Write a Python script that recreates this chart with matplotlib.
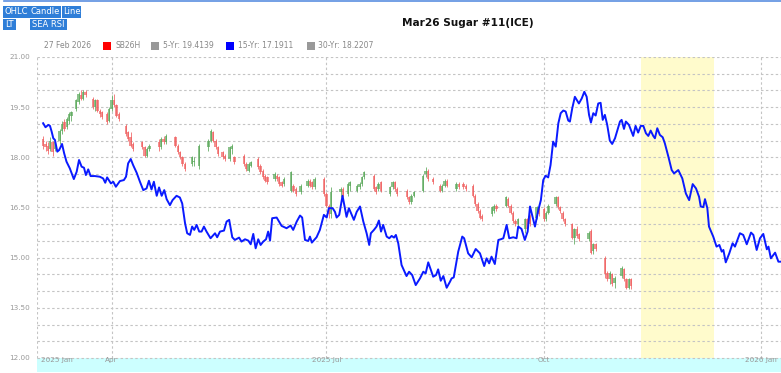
import numpy as np
import matplotlib
matplotlib.use("Agg")
from matplotlib import pyplot as plt
from matplotlib.patches import Rectangle
from matplotlib.lines import Line2D

W, H = 781, 373

# --- data (x = days since 2025-01-01) ---
# SB26H daily candles: day, open, high, low, close
candle_day = [61, 62, 63, 64, 65, 66, 68, 69, 70, 71, 72, 73, 75, 76, 77, 78, 79,
              82, 83, 84, 85, 86, 88, 89, 90, 91, 92, 93, 96, 97, 98, 99,
              103, 104, 105, 106, 110, 111, 112, 113, 117, 118, 119, 120, 121,
              124, 125, 127, 131, 132, 133, 134, 135, 137, 138, 140, 141, 142,
              146, 147, 148, 149, 152, 153, 154, 155, 156, 159, 160, 161, 162, 163,
              166, 167, 168, 170, 173, 174, 175, 176, 180, 181, 182, 183,
              187, 188, 190, 191, 194, 195, 196, 197, 201, 202, 203, 204,
              208, 209, 210, 211, 215, 216, 217, 218, 222, 223, 224, 226,
              229, 230, 231, 232, 236, 237, 239, 240, 243, 244, 245, 246, 247,
              251, 252, 253, 257, 258, 259, 260, 261, 262, 265, 266, 267,
              270, 271, 273, 274, 275, 278, 279, 280, 281, 282,
              285, 286, 287, 288, 292, 293, 294, 295,
              299, 300, 301, 302, 303, 306, 307, 308, 309, 310]
candle_open = [18.55, 18.40, 18.35, 18.25, 18.45, 18.25, 18.50, 18.80, 19.05, 18.90, 19.10, 19.25, 19.45, 19.65, 19.85, 19.75, 19.95,
               19.75, 19.50, 19.70, 19.40, 19.35, 19.30, 19.10, 19.45, 19.70, 19.55, 19.30, 18.95, 18.75, 18.60, 18.40,
               18.45, 18.30, 18.05, 18.25, 18.45, 18.30, 18.55, 18.45, 18.60, 18.35, 18.15, 18.00, 17.80,
               17.80, 17.85, 17.75, 18.30, 18.50, 18.75, 18.50, 18.30, 18.15, 18.05, 17.95, 18.25, 18.00,
               18.05, 17.80, 17.60, 17.75, 17.95, 17.75, 17.60, 17.45, 17.40, 17.35, 17.45, 17.40, 17.25, 17.20,
               17.00, 17.15, 17.05, 16.95, 17.15, 17.30, 17.25, 17.10, 17.35, 16.90, 16.55, 16.30,
               16.95, 17.05, 16.90, 17.15, 17.00, 17.10, 17.20, 17.40, 17.45, 17.10, 17.05, 17.25,
               16.90, 17.10, 17.25, 17.05, 17.00, 16.80, 16.65, 16.85, 17.00, 17.50, 17.60, 17.35,
               17.15, 17.00, 17.15, 17.30, 17.05, 17.20, 17.20, 17.15, 17.15, 16.85, 16.60, 16.40, 16.25,
               16.30, 16.40, 16.55, 16.55, 16.75, 16.55, 16.35, 16.10, 16.00, 15.85, 16.15, 16.25,
               16.20, 16.45, 16.45, 16.15, 16.35, 16.60, 16.80, 16.50, 16.35, 16.15,
               16.00, 15.60, 15.85, 15.70, 15.55, 15.80, 15.20, 15.40,
               15.00, 14.55, 14.35, 14.50, 14.25, 14.45, 14.65, 14.35, 14.10, 14.35]
candle_high = [18.65, 18.50, 18.45, 18.60, 18.50, 18.50, 18.85, 19.10, 19.15, 19.20, 19.35, 19.40, 19.75, 19.95, 20.00, 20.00, 20.00,
               19.80, 19.75, 19.75, 19.45, 19.40, 19.35, 19.50, 19.85, 19.90, 19.60, 19.35, 19.00, 18.80, 18.75, 18.45,
               18.50, 18.35, 18.30, 18.40, 18.55, 18.60, 18.65, 18.70, 18.65, 18.40, 18.20, 18.05, 17.85,
               18.05, 18.00, 18.40, 18.55, 18.85, 18.80, 18.55, 18.35, 18.20, 18.10, 18.35, 18.40, 18.05,
               18.10, 17.85, 17.85, 17.90, 18.00, 17.80, 17.65, 17.50, 17.45, 17.55, 17.50, 17.45, 17.30, 17.40,
               17.60, 17.20, 17.10, 17.20, 17.35, 17.35, 17.30, 17.40, 17.40, 16.95, 16.60, 17.10,
               17.10, 17.10, 17.25, 17.30, 17.20, 17.25, 17.45, 17.60, 17.50, 17.15, 17.25, 17.30,
               17.15, 17.30, 17.30, 17.10, 17.05, 16.85, 16.90, 17.00, 17.50, 17.70, 17.65, 17.40,
               17.20, 17.20, 17.35, 17.35, 17.25, 17.25, 17.25, 17.20, 17.20, 16.90, 16.65, 16.45, 16.30,
               16.55, 16.60, 16.60, 16.85, 16.80, 16.60, 16.40, 16.15, 16.20, 16.20, 16.20, 16.30,
               16.55, 16.55, 16.50, 16.40, 16.60, 16.85, 16.85, 16.55, 16.40, 16.20,
               16.05, 15.90, 15.95, 15.75, 15.80, 15.85, 15.45, 15.45,
               15.05, 14.60, 14.60, 14.55, 14.45, 14.75, 14.70, 14.40, 14.40, 14.40]
candle_low = [18.25, 18.20, 18.10, 18.20, 18.05, 18.20, 18.40, 18.70, 18.80, 18.85, 19.00, 19.10, 19.40, 19.60, 19.70, 19.70, 19.80,
              19.45, 19.40, 19.35, 19.20, 19.15, 19.00, 19.05, 19.40, 19.50, 19.20, 19.10, 18.65, 18.50, 18.30, 18.20,
              18.25, 18.00, 18.00, 18.20, 18.20, 18.25, 18.40, 18.40, 18.30, 18.10, 17.95, 17.75, 17.60,
              17.75, 17.75, 17.65, 18.20, 18.45, 18.45, 18.25, 18.05, 17.95, 17.90, 17.90, 18.10, 17.80,
              17.75, 17.60, 17.55, 17.70, 17.65, 17.50, 17.35, 17.25, 17.20, 17.30, 17.30, 17.15, 17.10, 17.15,
              16.95, 16.95, 16.85, 16.90, 17.10, 17.10, 17.05, 17.05, 16.85, 16.50, 16.20, 16.20,
              16.80, 16.80, 16.85, 17.00, 16.95, 17.05, 17.15, 17.35, 17.00, 16.90, 17.00, 16.95,
              16.85, 17.05, 17.00, 16.85, 16.75, 16.60, 16.60, 16.80, 16.95, 17.40, 17.30, 17.20,
              16.95, 16.95, 17.10, 17.10, 17.00, 17.05, 17.05, 17.00, 16.80, 16.55, 16.35, 16.15, 16.10,
              16.25, 16.35, 16.40, 16.50, 16.50, 16.30, 16.05, 15.95, 15.95, 15.75, 15.80, 15.95,
              16.15, 16.25, 16.10, 16.10, 16.30, 16.55, 16.45, 16.35, 16.10, 15.95,
              15.55, 15.40, 15.60, 15.50, 15.50, 15.10, 15.10, 15.20,
              14.40, 14.30, 14.20, 14.15, 14.10, 14.40, 14.30, 14.05, 14.05, 14.05]
candle_close = [18.35, 18.30, 18.20, 18.50, 18.15, 18.45, 18.80, 19.00, 18.85, 19.15, 19.30, 19.35, 19.70, 19.90, 19.75, 19.95, 19.85,
                19.50, 19.70, 19.40, 19.30, 19.20, 19.05, 19.45, 19.70, 19.55, 19.25, 19.15, 18.70, 18.55, 18.35, 18.25,
                18.30, 18.05, 18.25, 18.35, 18.30, 18.55, 18.45, 18.65, 18.35, 18.15, 18.00, 17.80, 17.65,
                18.00, 17.90, 18.35, 18.50, 18.80, 18.50, 18.30, 18.10, 18.00, 17.95, 18.30, 18.35, 17.85,
                17.80, 17.65, 17.80, 17.85, 17.70, 17.55, 17.40, 17.30, 17.25, 17.50, 17.35, 17.20, 17.15, 17.35,
                17.55, 17.00, 16.90, 17.15, 17.30, 17.15, 17.10, 17.35, 16.90, 16.55, 16.30, 16.95,
                17.05, 16.85, 17.20, 17.25, 17.15, 17.20, 17.40, 17.55, 17.05, 16.95, 17.20, 17.00,
                17.10, 17.25, 17.05, 16.90, 16.80, 16.65, 16.85, 16.95, 17.45, 17.60, 17.35, 17.25,
                17.00, 17.15, 17.30, 17.15, 17.20, 17.10, 17.10, 17.05, 16.85, 16.60, 16.40, 16.20, 16.15,
                16.50, 16.55, 16.45, 16.80, 16.55, 16.35, 16.10, 16.00, 16.15, 16.15, 15.85, 16.00,
                16.50, 16.30, 16.15, 16.35, 16.55, 16.80, 16.50, 16.40, 16.15, 16.00,
                15.60, 15.85, 15.65, 15.55, 15.75, 15.15, 15.40, 15.25,
                14.50, 14.35, 14.55, 14.20, 14.40, 14.70, 14.35, 14.10, 14.35, 14.15]

# 15-year seasonal line
sea_day = [61.0, 62.0, 63.2, 63.9, 64.6, 65.3, 66.0, 67.0, 67.8, 69.0, 69.9, 70.9, 72.3, 74.0, 75.2, 76.2,
           77.3, 78.3, 79.1, 80.1, 81.1, 82.9, 85.0, 86.4, 87.3, 88.1, 89.7, 90.7, 91.8, 93.5, 95.2, 96.1,
           97.0, 98.1, 99.1, 100.6, 102.0, 103.4, 104.8, 105.8, 106.9, 107.9, 109.1, 110.1, 111.2, 112.3,
           113.3, 114.7, 115.8, 117.5, 118.9, 119.9, 121.1, 122.0, 123.2, 124.1, 125.0, 126.0, 127.1, 128.1,
           129.1, 130.2, 131.9, 133.8, 134.7, 135.9, 137.6, 138.7, 139.8, 141.1, 142.2, 144.0, 145.0, 146.5,
           147.9, 148.9, 150.0, 151.0, 152.1, 153.1, 154.2, 155.4, 156.3, 157.1, 158.0, 159.9, 162.0, 164.1,
           165.8, 166.9, 168.4, 169.8, 170.7, 171.9, 173.3, 174.0, 174.8, 176.8, 178.2, 179.9, 181.1, 182.0,
           183.6, 184.6, 185.3, 186.4, 187.8, 188.8, 189.5, 190.5, 191.7, 192.6, 193.8, 195.2, 196.6, 198.0,
           199.1, 199.8, 201.1, 202.2, 203.2, 204.1, 205.0, 206.5, 207.6, 208.6, 209.6, 210.4, 211.4, 212.8,
           214.9, 216.0, 217.3, 218.8, 220.6, 222.0, 223.0, 224.1, 226.2, 227.4, 228.3, 229.4, 230.5, 231.9,
           233.3, 234.0, 234.9, 236.8, 238.5, 239.3, 241.0, 242.5, 244.2, 246.0, 247.8, 248.8, 249.9, 250.9,
           252.3, 253.8, 254.8, 255.9, 257.3, 258.4, 260.1, 261.5, 262.2, 263.6, 265.0, 266.2, 267.2, 267.9,
           269.3, 270.7, 271.8, 272.8, 273.8, 274.9, 275.9, 277.0, 278.1, 279.2, 280.2, 281.3, 282.3, 283.4,
           284.1, 285.1, 286.2, 287.9, 289.1, 290.2, 291.2, 292.2, 293.0, 294.0, 295.0, 296.1, 297.1, 298.0,
           298.9, 299.9, 301.0, 302.0, 303.2, 305.3, 306.0, 307.0, 307.8, 309.1, 310.9, 311.9, 313.0, 314.1,
           315.2, 316.3, 317.3, 318.3, 319.4, 320.1, 321.1, 322.2, 323.4, 324.3, 325.8, 327.2, 328.2, 330.0,
           331.7, 333.2, 334.6, 336.1, 337.5, 338.8, 339.5, 340.6, 341.3, 342.3, 343.0, 344.8, 346.2, 347.4,
           348.4, 349.1, 350.1, 351.6, 353.0, 354.0, 356.1, 357.5, 359.0, 360.8, 361.8, 363.2, 364.6, 366.0,
           367.5, 368.2, 369.2, 371.0, 372.4, 373.5]
sea_val = [19.02, 18.90, 18.97, 18.94, 18.77, 18.57, 18.52, 18.17, 18.22, 18.40, 18.12, 17.87, 17.67, 17.35, 17.57, 17.92,
           17.72, 17.69, 17.47, 17.64, 17.44, 17.44, 17.42, 17.37, 17.24, 17.40, 17.22, 17.27, 17.12, 17.29, 17.32, 17.42,
           17.82, 17.95, 17.77, 17.54, 17.27, 17.02, 17.07, 17.30, 17.04, 17.27, 16.85, 17.10, 16.85, 17.02,
           16.75, 16.57, 16.72, 16.85, 16.80, 16.62, 16.03, 15.73, 15.68, 15.93, 15.83, 15.98, 15.78, 15.78,
           15.93, 15.78, 15.58, 15.73, 15.61, 15.78, 15.81, 16.08, 16.13, 15.61, 15.53, 15.60, 15.48, 15.55,
           15.51, 15.40, 15.71, 15.28, 15.55, 15.38, 15.48, 15.55, 15.78, 15.51, 16.18, 16.20, 15.95, 15.88,
           15.96, 15.83, 16.08, 16.26, 16.20, 15.53, 15.50, 15.63, 15.45, 15.61, 15.83, 16.28, 16.20, 16.48,
           16.48, 16.37, 16.20, 16.28, 16.85, 16.48, 16.22, 16.48, 16.28, 16.13, 16.37, 16.53, 16.08, 15.73,
           15.38, 15.73, 15.83, 15.93, 16.11, 15.78, 15.98, 15.63, 15.58, 15.65, 15.60, 15.68, 15.43, 14.78,
           14.45, 14.58, 14.48, 14.18, 14.38, 14.58, 14.53, 14.86, 14.43, 14.48, 14.65, 14.31, 14.45, 14.10,
           14.28, 14.38, 14.41, 15.18, 15.63, 15.58, 15.13, 15.01, 15.26, 15.13, 14.75, 14.98, 14.83, 15.03,
           14.81, 15.53, 15.55, 15.58, 15.98, 15.58, 15.61, 15.58, 15.93, 15.86, 15.53, 15.78, 16.53, 16.33,
           15.93, 16.42, 16.72, 17.32, 17.45, 17.40, 17.77, 18.47, 18.32, 19.02, 19.32, 19.40, 19.37, 19.10,
           19.07, 19.47, 19.81, 19.61, 19.76, 19.96, 19.81, 19.27, 19.04, 19.32, 19.25, 19.61, 19.63, 19.12,
           19.27, 18.97, 18.50, 18.40, 18.57, 19.07, 19.12, 18.85, 19.07, 18.97, 18.64, 18.94, 18.74, 18.94,
           18.94, 18.72, 18.64, 18.80, 18.64, 18.57, 18.87, 18.67, 18.60, 18.42, 18.02, 17.62, 17.52, 17.62,
           17.37, 16.92, 16.72, 17.20, 17.07, 16.82, 16.53, 16.51, 16.75, 16.48, 15.93, 15.63, 15.33, 15.38,
           15.18, 15.23, 14.86, 15.13, 15.43, 15.33, 15.73, 15.68, 15.40, 15.75, 15.68, 15.23, 15.58, 15.71,
           15.25, 15.33, 14.98, 15.15, 14.88, 14.88]

y_ticks = [12.0, 13.5, 15.0, 16.5, 18.0, 19.5, 21.0]
month_day = [90, 181, 273, 365]
month_label = ["Apr", "2025 Jul", "Oct", "2026 Jan"]
first_label = "2025 Jan"
highlight = (314, 345)

legend_items = [("SB26H", "#ff0000"), ("5-Yr: 19.4139", "#999999"),
                ("15-Yr: 17.1911", "#0000ff"), ("30-Yr: 18.2207", "#999999")]
buttons_row1 = ["OHLC", "Candle", "Line"]
buttons_row2 = ["LT", "SEA RSI"]

# --- figure ---
fig = plt.figure(figsize=(W / 100, H / 100), dpi=100)
fx = lambda x: x / W
fy = lambda y: 1 - y / H

ax = fig.add_axes([fx(37), fy(372), 1 - fx(37), (372 - 57) / H])
ymin = 12 - 14 / 33.44
ax.set_xlim(58.4, 373.5)
ax.set_ylim(ymin, 21.0)
for s in ax.spines.values():
    s.set_visible(False)

grid_kw = dict(color="#c4c4c4", lw=0.8, linestyle=(0, (2.2, 2.2)), zorder=1)
for v in np.arange(12.0, 21.01, 0.5):
    ax.axhline(v, **grid_kw)
for d in [58.6] + month_day:
    ax.axvline(d, ymin=(12 - ymin) / (21 - ymin), **grid_kw)

# cyan date band and highlighted window
ax.axhspan(ymin, 12.0, color="#ccffff", lw=0, zorder=0)
ax.axvspan(highlight[0], highlight[1], ymin=(12 - ymin) / (21 - ymin), ymax=1,
           color="#fffbcc", lw=0, zorder=0)

# candles
o = np.array(candle_open)
c = np.array(candle_close)
cols = np.where(c >= o, "#5aa85a", "#f06060")
ax.vlines(candle_day, candle_low, candle_high, colors=cols, lw=0.7, alpha=0.8, zorder=2)
ax.bar(candle_day, np.maximum(np.abs(c - o), 0.03), bottom=np.minimum(o, c), width=1.0,
       color=cols, alpha=0.7, zorder=2)

ax.plot(sea_day, sea_val, color="#0a1aff", lw=1.4, zorder=3)

ax.set_yticks(y_ticks)
ax.set_yticklabels([f"{v:.2f}" for v in y_ticks], fontsize=5.2, color="#999999")
ax.tick_params(axis="y", length=0, pad=5)
ax.set_xticks([])
lab_kw = dict(fontsize=5.2, color="#999999", va="center", ha="center", zorder=4)
ax.text(66.8, 11.95, first_label, **lab_kw)
for d, t in zip(month_day, month_label):
    ax.text(d, 11.95, t, **lab_kw)

# header
fig.add_artist(Line2D([fx(4), 1], [fy(1), fy(1)], color="#5b8fe0", lw=1.2))
btn_color = "#2f7ed8"
def button(x0, x1, y0, y1, text):
    fig.add_artist(Rectangle((fx(x0), fy(y1)), fx(x1 - x0), (y1 - y0) / H,
                             color=btn_color, lw=0))
    fig.text(fx((x0 + x1) / 2), fy((y0 + y1) / 2), text, color="white",
             fontsize=6, ha="center", va="center")

for (x0, x1), t in zip([(3, 29.5), (30, 61), (62, 81)], buttons_row1):
    button(x0, x1, 6, 17.5, t)
for (x0, x1), t in zip([(3, 16), (30, 67)], buttons_row2):
    button(x0, x1, 19, 29.5, t)

fig.text(fx(401.7), fy(23), "Mar26 Sugar #11(ICE)", fontsize=7.6, weight="bold",
         ha="left", va="center", color="#111111")

fig.text(fx(44), fy(46), "27 Feb 2026", fontsize=5.5, color="#888888", ha="left", va="center")
for (x_sq, x_txt), (t, col) in zip([(103, 115), (151, 163), (226, 238), (307, 318)], legend_items):
    fig.add_artist(Rectangle((fx(x_sq), fy(50)), fx(8), 8 / H, color=col, lw=0))
    fig.text(fx(x_txt), fy(46), t, fontsize=5.5, color="#888888", ha="left", va="center")

fig.savefig("out.png", dpi=100)
